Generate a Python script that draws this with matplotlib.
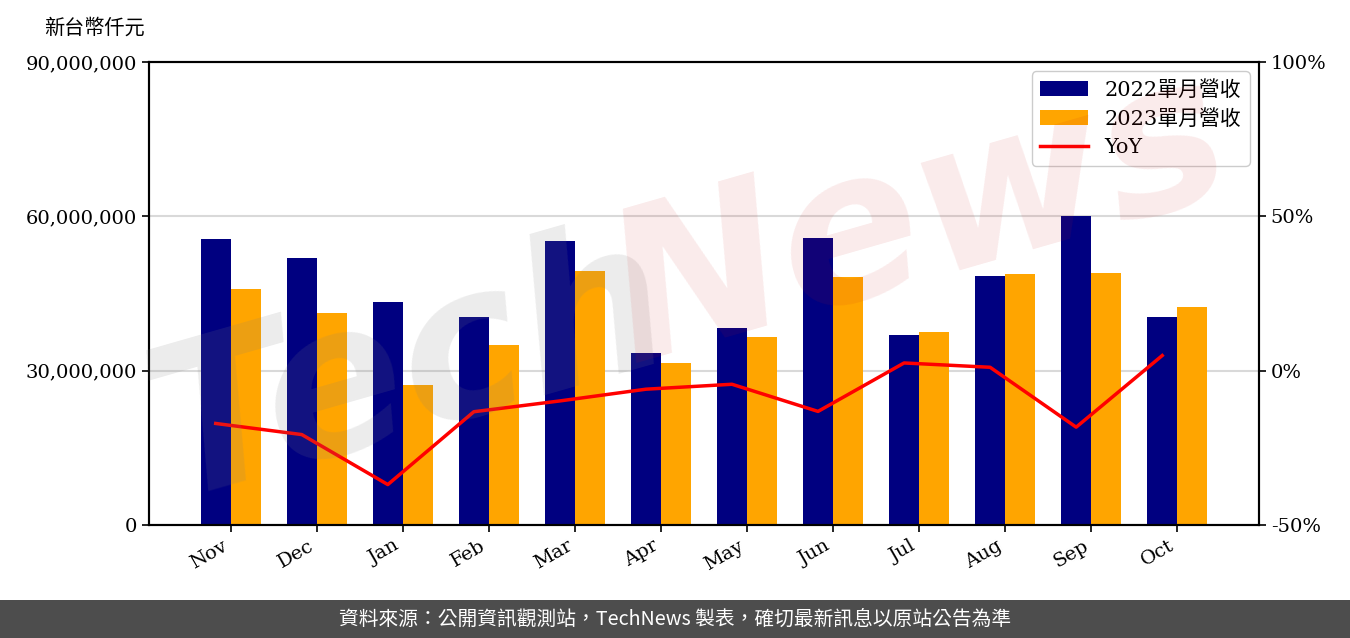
import matplotlib
matplotlib.use("Agg")
import matplotlib.pyplot as plt
from matplotlib.ticker import FuncFormatter, FixedLocator
import numpy as np

plt.rcParams["font.family"] = ["DejaVu Serif", "Noto Sans CJK TC"]

months = ["Nov", "Dec", "Jan", "Feb", "Mar", "Apr", "May", "Jun", "Jul", "Aug", "Sep", "Oct"]
# monthly revenue, NT$ thousand
rev_2022 = [55_500_000, 52_000_000, 43_300_000, 40_400_000, 55_300_000, 33_500_000,
            38_200_000, 55_700_000, 36_900_000, 48_400_000, 60_000_000, 40_400_000]
rev_2023 = [45_900_000, 41_200_000, 27_300_000, 34_900_000, 49_400_000, 31_400_000,
            36_500_000, 48_200_000, 37_600_000, 48_800_000, 49_000_000, 42_400_000]
yoy = [-17.1, -20.7, -36.9, -13.3, -9.8, -6.0, -4.4, -13.2, 2.5, 1.1, -18.3, 4.9]

navy = "#000080"
orange = "#ffa500"

fig = plt.figure(figsize=(13.5, 6.38), dpi=100)
ax = fig.add_axes([0.1104, 0.1771, 0.8222, 0.7257])
x = np.arange(len(months))
w = 0.35

ax.bar(x - w / 2, rev_2022, w, color=navy, label="2022單月營收", zorder=2)
ax.bar(x + w / 2, rev_2023, w, color=orange, label="2023單月營收", zorder=2)
ax.set_ylim(0, 90_000_000)
ax.set_xlim(-0.95, 11.95)
ax.yaxis.set_major_locator(FixedLocator([0, 30_000_000, 60_000_000, 90_000_000]))
ax.yaxis.set_major_formatter(FuncFormatter(lambda v, _: f"{v:,.0f}"))
ax.set_xticks(x)
ax.set_xticklabels(months, rotation=30, ha="right", fontsize=14)
ax.tick_params(axis="y", labelsize=14, width=1.2, length=5)
ax.tick_params(axis="x", width=1.2, length=5)
ax.grid(axis="y", color="#d9d9d9", linewidth=1.5, zorder=0)
ax.set_axisbelow(True)
for s in ax.spines.values():
    s.set_linewidth(1.5)

ax2 = ax.twinx()
ax2.plot(x - w / 2, yoy, color="red", linewidth=2.5, label="YoY", zorder=3)
ax2.set_ylim(-50, 100)
ax2.set_yticks([-50, 0, 50, 100])
ax2.yaxis.set_major_formatter(FuncFormatter(lambda v, _: f"{v:.0f}%"))
ax2.tick_params(axis="y", labelsize=14, width=1.2, length=5)
for s in ax2.spines.values():
    s.set_linewidth(1.5)

h1, l1 = ax.get_legend_handles_labels()
h2, l2 = ax2.get_legend_handles_labels()
leg = ax2.legend(h1 + h2, l1 + l2, loc="upper right", fontsize=15, framealpha=1,
                 handlelength=2.3, labelspacing=0.45, borderaxespad=0.45)
leg.get_frame().set_edgecolor("#cccccc")

fig.text(0.033, 0.957, "新台幣仟元", fontsize=14.5, ha="left", va="center")

# watermark
fig.text(0.304, 0.42, "Tech", rotation=16, fontsize=150, fontweight="bold", fontstyle="italic",
         family="DejaVu Sans", color="0.5", alpha=0.15, ha="center", va="center", zorder=10)
fig.text(0.681, 0.655, "News", rotation=16, fontsize=150, fontweight="bold", fontstyle="italic",
         family="DejaVu Sans", color="#cc1a1a", alpha=0.09, ha="center", va="center", zorder=10)

# footer band
fig.patches.append(plt.Rectangle((0, 0), 1, 38 / 638, transform=fig.transFigure,
                                 facecolor="#4d4d4d", edgecolor="none", zorder=0))
fig.text(0.5, 19 / 638, "資料來源：公開資訊觀測站，TechNews 製表，確切最新訊息以原站公告為準",
         family=["Noto Sans CJK TC", "DejaVu Sans"], fontsize=14.2, color="white",
         ha="center", va="center")

fig.savefig("out.png", dpi=100)
